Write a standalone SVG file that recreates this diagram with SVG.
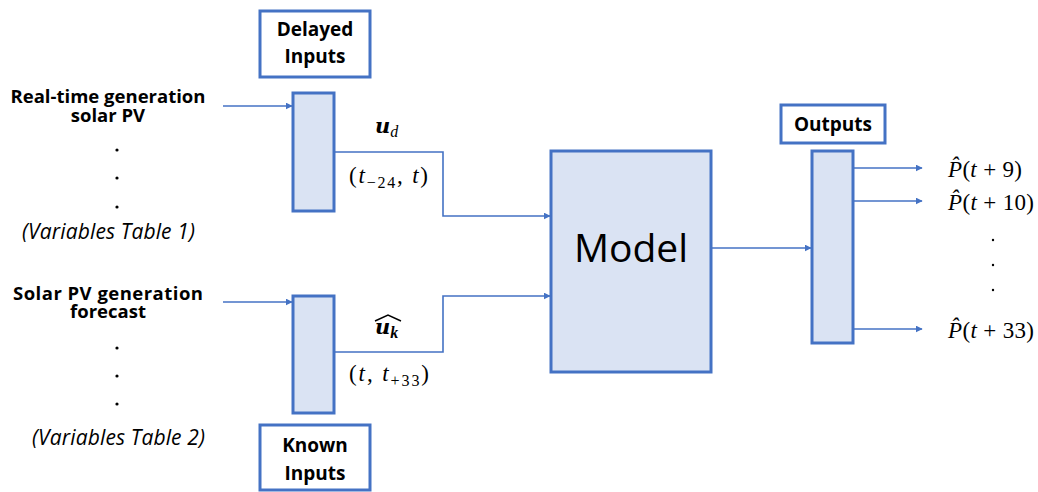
<svg xmlns="http://www.w3.org/2000/svg" width="1038" height="492" viewBox="0 0 1038 492">
  <defs>
    <style>
      .box { fill: #ffffff; stroke: #4472C4; stroke-width: 3; }
      .bar { fill: #DAE3F3; stroke: #4472C4; stroke-width: 3; }
      .wire { fill: none; stroke: #4472C4; stroke-width: 1.6; }
      .lbl { font-family: "Open Sans", "Liberation Sans", sans-serif; font-weight: bold; font-size: 18.5px; fill: #000; text-anchor: middle; }
      .hdr { font-family: "Open Sans", "Liberation Sans", sans-serif; font-weight: bold; font-size: 19px; fill: #000; text-anchor: middle; }
      .note { font-family: "Open Sans", "Liberation Sans", sans-serif; font-style: italic; font-size: 21px; fill: #000; }
      .math { font-family: "Liberation Serif", "DejaVu Serif", serif; font-size: 23px; fill: #000; }
      .vec { font-family: "DejaVu Serif", "Liberation Serif", serif; font-weight: bold; font-style: italic; font-size: 21px; }
      .mi { font-style: italic; }
      .sub { font-size: 16px; }
      .dot { fill: #000; }
    </style>
    <marker id="arrow" viewBox="0 0 10 10" refX="9" refY="5" markerWidth="7" markerHeight="7" markerUnits="userSpaceOnUse" orient="auto">
      <path d="M0,0 L10,5 L0,10 z" fill="#4472C4"/>
    </marker>
  </defs>

  <!-- connectors -->
  <g id="connectors">
    <path class="wire" d="M223,106 H292" marker-end="url(#arrow)"/>
    <path class="wire" d="M223,302 H292" marker-end="url(#arrow)"/>
    <path class="wire" d="M335,152 H443 V216 H550" marker-end="url(#arrow)"/>
    <path class="wire" d="M335,352 H443 V296 H550" marker-end="url(#arrow)"/>
    <path class="wire" d="M712,248 H811" marker-end="url(#arrow)"/>
    <path class="wire" d="M854,168 H922" marker-end="url(#arrow)"/>
    <path class="wire" d="M854,201 H922" marker-end="url(#arrow)"/>
    <path class="wire" d="M854,329 H922" marker-end="url(#arrow)"/>
  </g>

  <!-- input descriptions -->
  <g id="input-realtime">
    <text class="lbl" x="108" y="103" textLength="195">Real-time generation</text>
    <text class="lbl" x="108" y="122">solar PV</text>
    <circle class="dot" cx="117" cy="150" r="1.6"/>
    <circle class="dot" cx="117" cy="178" r="1.6"/>
    <circle class="dot" cx="117" cy="207" r="1.6"/>
    <text class="note" x="22" y="239" textLength="173">(Variables Table 1)</text>
  </g>
  <g id="input-forecast">
    <text class="lbl" x="108" y="300" textLength="190">Solar PV generation</text>
    <text class="lbl" x="108" y="318">forecast</text>
    <circle class="dot" cx="117" cy="348" r="1.6"/>
    <circle class="dot" cx="117" cy="376" r="1.6"/>
    <circle class="dot" cx="117" cy="404" r="1.6"/>
    <text class="note" x="32" y="445" textLength="173">(Variables Table 2)</text>
  </g>

  <!-- delayed inputs -->
  <g id="delayed-inputs">
    <rect class="box" x="260" y="11" width="110" height="66"/>
    <text class="hdr" x="315" y="36">Delayed</text>
    <text class="hdr" x="315" y="63">Inputs</text>
  </g>
  <g id="delayed-bar">
    <rect class="bar" x="293" y="93" width="41" height="118"/>
  </g>
  <g id="label-ud">
    <text class="math" x="375" y="133"><tspan class="vec">u</tspan><tspan class="mi sub" dy="4">d</tspan></text>
    <text class="math" x="349" y="183" textLength="79">(<tspan class="mi">t</tspan><tspan class="sub" dy="5">−24</tspan><tspan dy="-5">,</tspan><tspan class="mi"> t</tspan>)</text>
  </g>

  <!-- known inputs -->
  <g id="known-bar">
    <rect class="bar" x="293" y="296" width="41" height="117"/>
  </g>
  <g id="known-inputs">
    <rect class="box" x="260" y="425" width="110" height="65"/>
    <text class="hdr" x="315" y="452">Known</text>
    <text class="hdr" x="315" y="480">Inputs</text>
  </g>
  <g id="label-uk">
    <text class="math" x="375" y="334"><tspan class="vec">u</tspan><tspan class="mi sub" font-weight="bold" dy="4">k</tspan></text>
    <path d="M375,321 L388,315 L401,321" fill="none" stroke="#000" stroke-width="1.4"/>
    <text class="math" x="349" y="381" textLength="80">(<tspan class="mi">t</tspan>,<tspan class="mi"> t</tspan><tspan class="sub" dy="5">+33</tspan><tspan dy="-5">)</tspan></text>
  </g>

  <!-- model -->
  <g id="model">
    <rect class="bar" x="551" y="151" width="160" height="221"/>
    <text x="631" y="262" text-anchor="middle" font-family="'Open Sans', 'Liberation Sans', sans-serif" font-size="39px" fill="#000">Model</text>
  </g>

  <!-- outputs -->
  <g id="outputs">
    <rect class="box" x="781" y="105" width="104" height="38"/>
    <text class="hdr" x="833" y="131">Outputs</text>
  </g>
  <g id="outputs-bar">
    <rect class="bar" x="812" y="151" width="41" height="192"/>
  </g>
  <g id="output-labels">
    <text class="math" x="948" y="177" textLength="74"><tspan class="mi">P̂</tspan>(<tspan class="mi">t</tspan> + 9)</text>
    <text class="math" x="948" y="210" textLength="86"><tspan class="mi">P̂</tspan>(<tspan class="mi">t</tspan> + 10)</text>
    <circle class="dot" cx="993" cy="240" r="1.2"/>
    <circle class="dot" cx="993" cy="265" r="1.2"/>
    <circle class="dot" cx="993" cy="290" r="1.2"/>
    <text class="math" x="948" y="338" textLength="86"><tspan class="mi">P̂</tspan>(<tspan class="mi">t</tspan> + 33)</text>
  </g>
</svg>
